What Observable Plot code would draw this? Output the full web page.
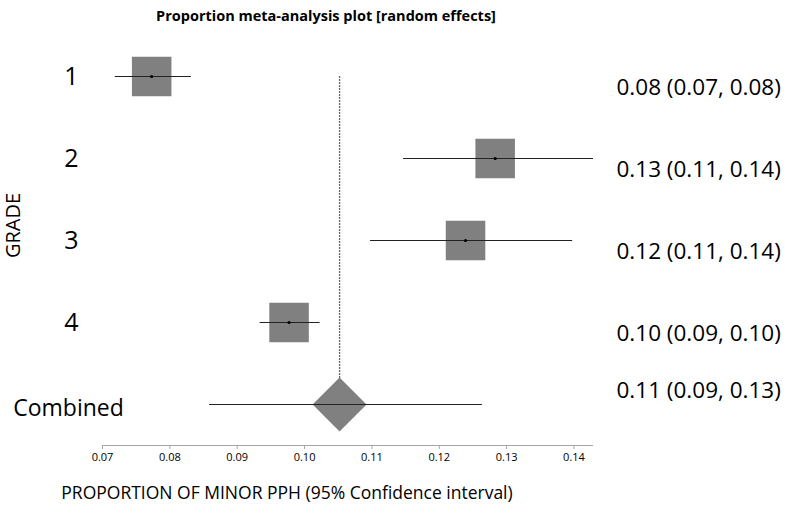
<!DOCTYPE html>
<html>
<head>
<meta charset="utf-8">
<script src="https://cdn.jsdelivr.net/npm/d3@7"></script>
<script src="https://cdn.jsdelivr.net/npm/@observablehq/plot@0.6"></script>
<style>
  html, body { margin: 0; padding: 0; background: #fff; }
  #chart { width: 787px; height: 513px; }
</style>
</head>
<body>
<div id="chart"></div>
<script>
// ---- data ----
const grades = ["1", "2", "3", "4", "Combined"];
const rows = [1, 2, 3, 4, 5];
const estimate = [0.0773, 0.1283, 0.1239, 0.0977, 0.1052];
const ciLow = [0.0719, 0.1147, 0.1098, 0.0934, 0.0859];
const ciHigh = [0.0832, 0.1429, 0.1398, 0.1023, 0.1264];
const ciLabels = [
  "0.08 (0.07, 0.08)",
  "0.13 (0.11, 0.14)",
  "0.12 (0.11, 0.14)",
  "0.10 (0.09, 0.10)",
  "0.11 (0.09, 0.13)"
];
const xTicks = [0.07, 0.08, 0.09, 0.10, 0.11, 0.12, 0.13, 0.14];
const titleText = "Proportion meta-analysis plot [random effects]";
const xLabel = "PROPORTION OF MINOR PPH (95% Confidence interval)";
const yLabel = "GRADE";

const table = grades.map((g, i) => ({
  grade: g, row: rows[i], est: estimate[i], lo: ciLow[i], hi: ciHigh[i], label: ciLabels[i]
}));
const studies = table.filter(d => d.grade !== "Combined");
const pooled = table.filter(d => d.grade === "Combined");

const font = "'Open Sans', sans-serif";

const chart = Plot.plot({
  width: 787,
  height: 513,
  marginLeft: 102,
  marginRight: 194,
  marginTop: 35,
  marginBottom: 68,
  style: { fontFamily: font, background: "#fff", color: "#000" },
  x: { domain: [0.07, d3.max(ciHigh)], axis: null },
  y: { domain: [0.5, 5.5], range: [35, 445], axis: null },
  marks: [
    // x axis
    Plot.ruleY([5.5], { stroke: "#a6a6a6", strokeWidth: 1.2 }),
    Plot.axisX({
      ticks: xTicks, tickFormat: d3.format(".2f"), tickSize: 4, tickPadding: 4,
      stroke: "#a6a6a6", fill: "#000", fontSize: 11, label: null
    }),
    // pooled estimate reference line
    Plot.ruleX(pooled, { x: "est", y1: 1, y2: "row", stroke: "#666", strokeWidth: 1.3, strokeDasharray: "2,1" }),
    // study squares
    Plot.dot(studies, { x: "est", y: "row", symbol: "square", r: 22.3, fill: "#808080", stroke: "none" }),
    // pooled diamond
    Plot.dot(pooled, { x: "est", y: "row", symbol: "diamond2", r: 24.3, fill: "#808080", stroke: "none" }),
    // confidence intervals
    Plot.ruleY(table, { y: "row", x1: "lo", x2: "hi", stroke: "#222", strokeWidth: 1.2 }),
    // centre points
    Plot.dot(studies, { x: "est", y: "row", r: 1.6, fill: "#000" }),
    // left labels
    Plot.text(studies, { y: "row", text: "grade", frameAnchor: "left", dx: -31, textAnchor: "middle", fontSize: 25, fill: "#000" }),
    Plot.text(pooled, { y: "row", text: "grade", frameAnchor: "left", dx: -34, dy: 4, textAnchor: "middle", fontSize: 23, fill: "#000" }),
    // right labels
    Plot.text(studies, { y: "row", text: "label", frameAnchor: "right", dx: 23, dy: 11, textAnchor: "start", fontSize: 22.5, fill: "#000" }),
    Plot.text(pooled, { y: "row", text: "label", frameAnchor: "right", dx: 23, dy: -14, textAnchor: "start", fontSize: 22.5, fill: "#000" }),
    // title and axis labels
    Plot.text([titleText], { frameAnchor: "top", dx: -22, dy: -25, fontSize: 14.5, fontWeight: "bold", fill: "#000" }),
    Plot.text([xLabel], { frameAnchor: "bottom", dx: -61, dy: 53, fontSize: 17.5, fill: "#000" }),
    Plot.text([yLabel], { frameAnchor: "left", dx: -89, dy: -15, rotate: -90, textAnchor: "middle", fontSize: 20, fill: "#000" })
  ]
});
document.getElementById("chart").appendChild(chart);
</script>
</body>
</html>
